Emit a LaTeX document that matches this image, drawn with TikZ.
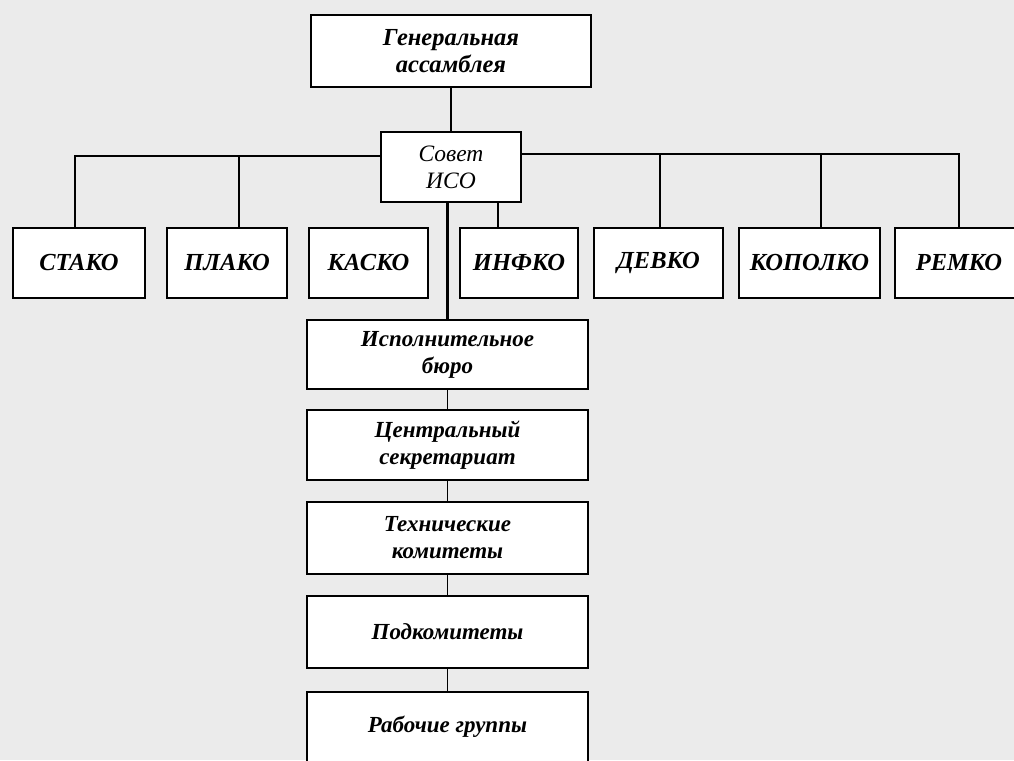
\documentclass[tikz,border=0pt]{standalone}
\usepackage{fontspec}
\setmainfont{Liberation Serif}
\usepackage{tikz}
\usetikzlibrary{positioning}

\begin{document}
\begin{tikzpicture}[x=1pt,y=-1pt]
			\clip (0,0) rectangle (1014,760);
			\fill[black!8] (0,0) rectangle (1014,760);
			\begin{scope}
				[
					styleBox/.style={
						draw, fill=white, line width=2.4pt,
						inner sep=0pt, align=center,
						font=\bfseries\itshape\fontsize{23}{27}\selectfont
						},
					styleRow/.style={styleBox, minimum height=70pt,
						font=\bfseries\itshape\fontsize{24.5}{27}\selectfont},
					styleChain/.style={styleBox, minimum width=281pt},
				]
				\node(gen)[styleBox, minimum width=280pt, minimum height=72pt,
					font=\bfseries\itshape\fontsize{24.5}{27}\selectfont] at (451,51) {Генеральная\\ассамблея};
				\node(sovet)[styleBox, minimum width=140pt, minimum height=70pt,
					font=\itshape\fontsize{23.5}{27}\selectfont] at (451,167) {Совет\\ИСО};

				\node(stako)[styleRow, minimum width=132pt] at (79,263) {СТАКО};
				\node(plako)[styleRow, minimum width=120pt] at (227,263) {ПЛАКО};
				\node(kasko)[styleRow, minimum width=119pt] at (368.5,263) {КАСКО};
				\node(infko)[styleRow, minimum width=118pt] at (519,263) {ИНФКО};
				\node(devko)[styleRow, minimum width=129pt] at (658.5,263) {ДЕВКО};
				\node(kopolko)[styleRow, minimum width=141pt] at (809.5,263) {КОПОЛКО};
				\node(remko)[styleRow, minimum width=128pt] at (959,263) {РЕМКО};

				\node(ispol)[styleChain, minimum height=69pt] at (447.5,354.5) {Исполнительное\\бюро};
				\node(sekr)[styleChain, minimum height=70pt] at (447.5,445) {Центральный\\секретариат};
				\node(tech)[styleChain, minimum height=72pt] at (447.5,538) {Технические\\комитеты};
				\node(podk)[styleChain, minimum height=72pt] at (447.5,632) {Подкомитеты};
				\node(rab)[styleChain, minimum height=70pt] at (447.5,727) {Рабочие группы};
			\end{scope}

			% points where the lines leave the bus
			\coordinate (busL) at (75,156);
			\coordinate (busP) at (239,156);
			\coordinate (busD) at (660,154);
			\coordinate (busK) at (821,154);
			\coordinate (busR) at (959,154);
			\coordinate (busI) at (498,202);

			\begin{scope}
				[ thin/.style = {line width=1.3pt},
					heavy/.style = {line width=2.4pt}]
				\draw[heavy] (gen) -- (sovet);
				\draw[thin] (sovet.west |- busL) -- (busL) -- (busL |- stako.north);
				\draw[thin] (busP) -- (busP |- plako.north);
				\draw[heavy] (sovet.east |- busD) -- (busR) -- (busR |- remko.north);
				\draw[thin] (busD) -- (busD |- devko.north);
				\draw[thin] (busK) -- (busK |- kopolko.north);
				\draw[thin] (sovet.south -| busI) -- (infko.north -| busI);
				\draw[line width=3pt] (ispol.north |- sovet.south) -- (ispol.north);
				\path
				(ispol) edge[thin] (sekr)
				(sekr) edge[thin] (tech)
				(tech) edge[thin] (podk)
				(podk) edge[thin] (rab);
			\end{scope}
		\end{tikzpicture}
\end{document}
